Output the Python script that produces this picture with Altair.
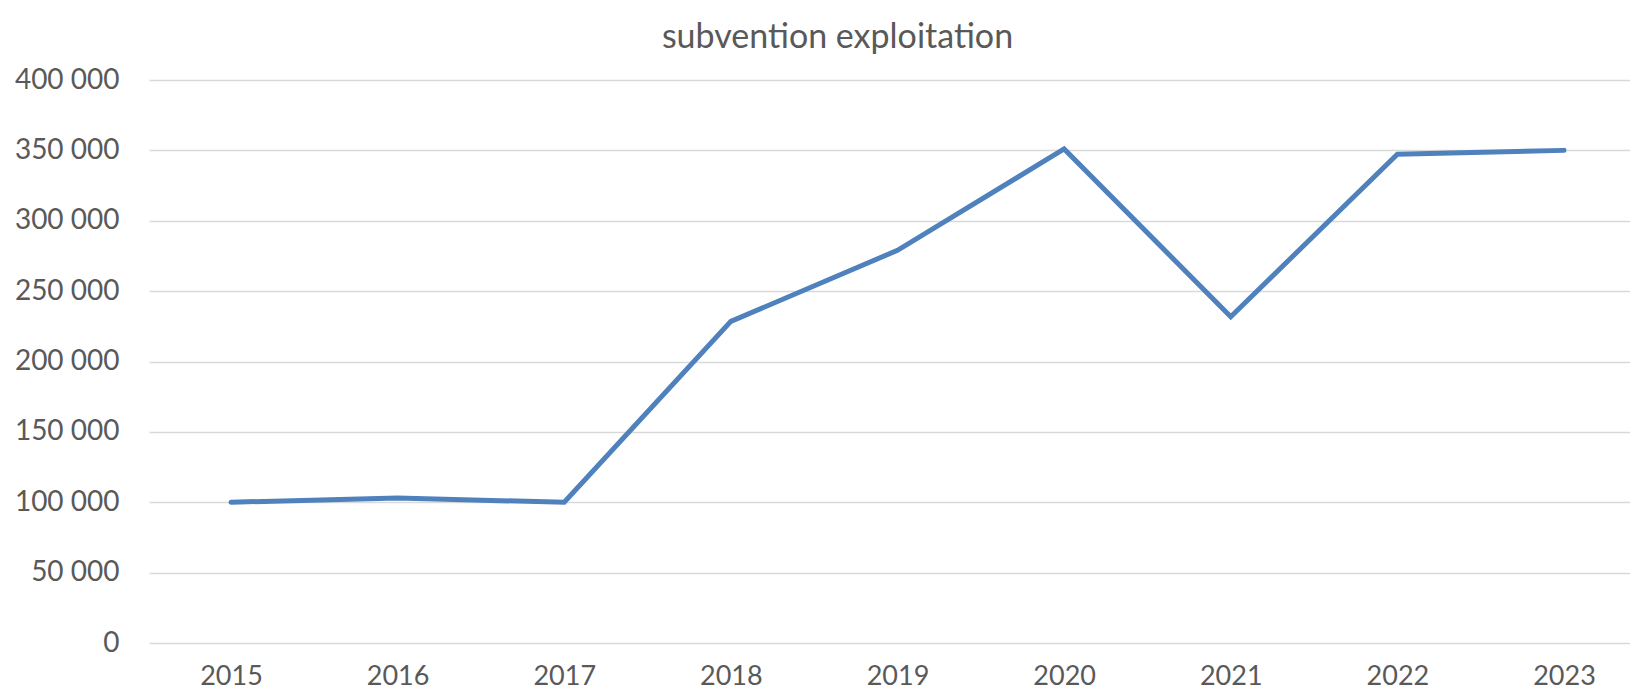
import altair as alt
import pandas as pd

years = ["2015", "2016", "2017", "2018", "2019", "2020", "2021", "2022", "2023"]
values = [100000, 103000, 100000, 228500, 279000, 351000, 231800, 347200, 350000]

df = pd.DataFrame({"year": years, "value": values})

FONT = "Lato"
LABEL_COLOR = "#595959"

chart = alt.Chart(df).mark_line(
    color="#4F81BD", strokeWidth=5, strokeCap="round", strokeJoin="miter"
).encode(
    x=alt.X("year:O", sort=years,
            scale=alt.Scale(type="point", padding=0.444, align=0.554),
            axis=alt.Axis(title=None, labelAngle=0, domain=False, ticks=False,
                          grid=False, labelPadding=20, labelFontSize=27,
                          labelColor=LABEL_COLOR, labelFont=FONT)),
    y=alt.Y("value:Q", scale=alt.Scale(domain=[0, 400000], nice=False),
            axis=alt.Axis(title=None, values=[0, 50000, 100000, 150000, 200000,
                                              250000, 300000, 350000, 400000],
                          format=",.0f", domain=False, ticks=False,
                          labelPadding=30, labelFontSize=28,
                          labelColor=LABEL_COLOR, labelFont=FONT,
                          gridColor="#D9D9D9", gridWidth=1.5)),
).properties(
    width=1481,
    height=563,
    title=alt.TitleParams("subvention exploitation", font=FONT, fontSize=34,
                          fontWeight="normal", color=LABEL_COLOR,
                          anchor="middle", dx=-52, offset=11),
    autosize=alt.AutoSizeParams(type="none"),
    padding={"left": 141, "top": 72, "right": 0, "bottom": 49},
).configure(
    locale={"number": {"decimal": ".", "thousands": "\u00a0", "grouping": [3],
                       "currency": ["", "€"]}},
    view={"stroke": None},
)

chart.save("out.html", embed_options={"renderer": "svg", "actions": False})
